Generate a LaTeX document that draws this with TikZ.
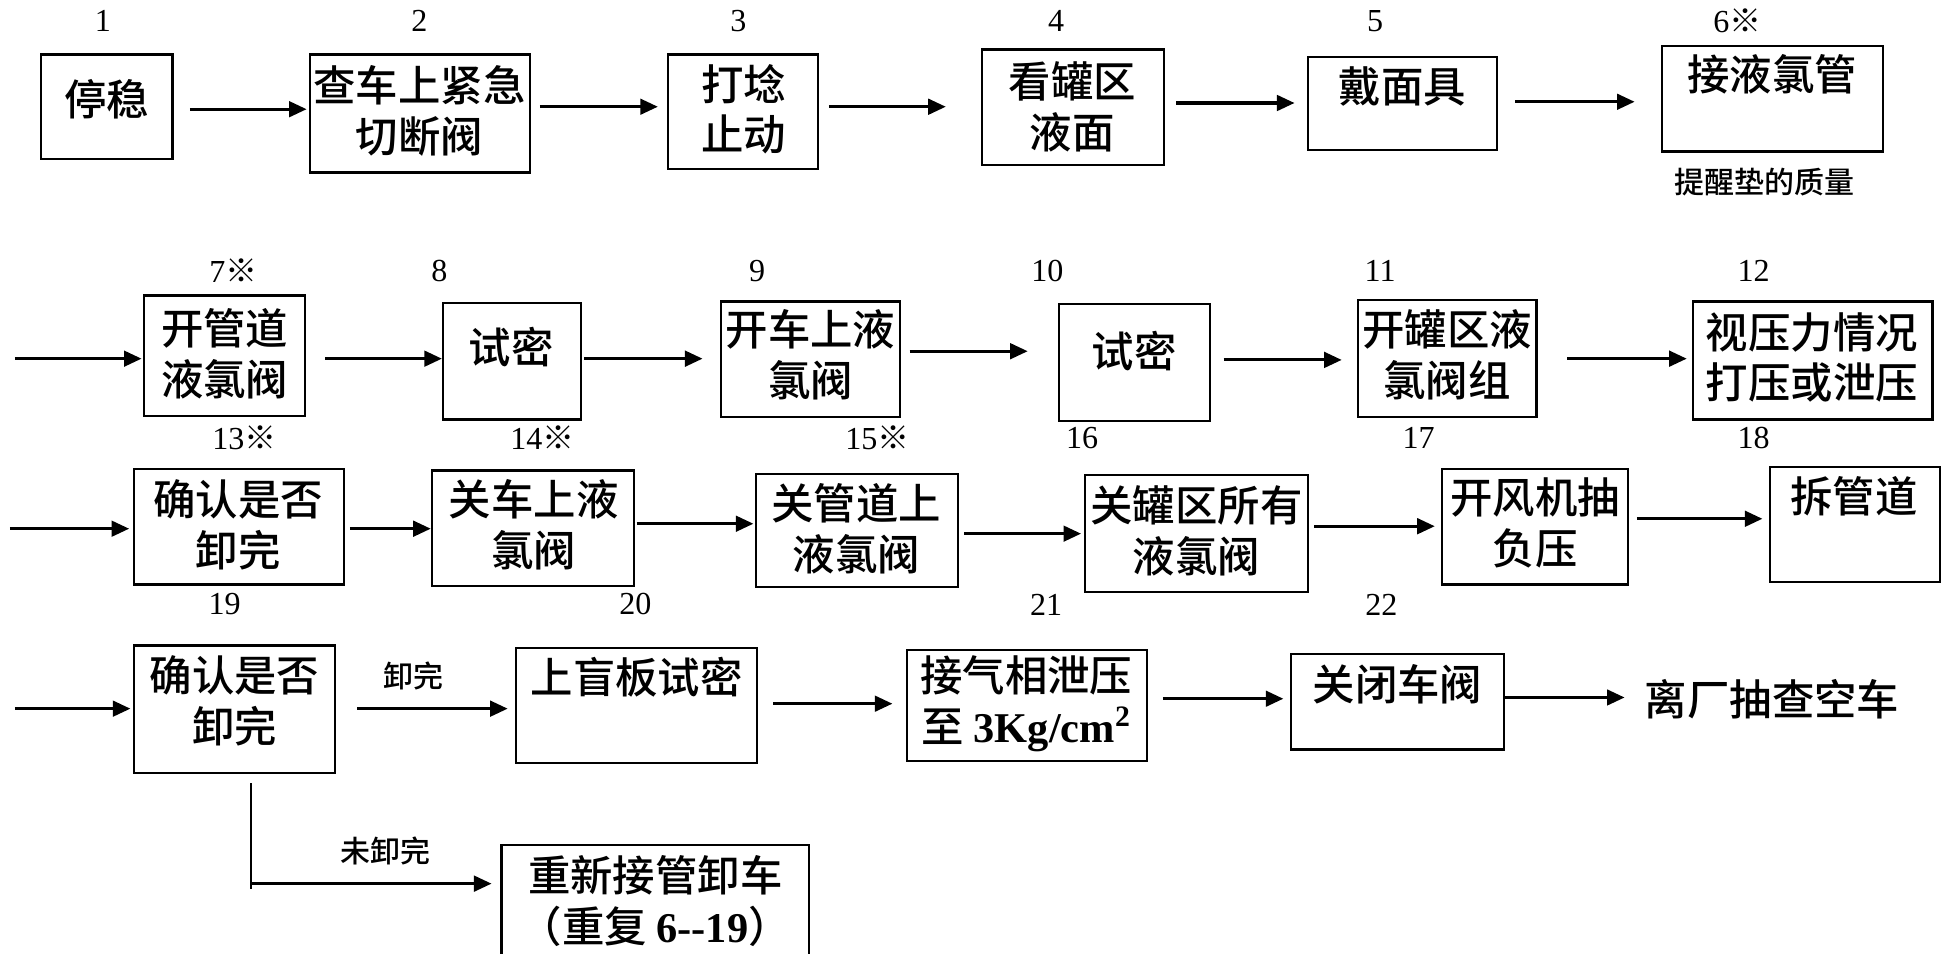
\documentclass[tikz,border=0pt]{standalone}
\usepackage{fontspec}
\setmainfont{Liberation Serif}
\newfontfamily\cjk[UprightFont=* Medium]{Noto Sans CJK SC}
\usetikzlibrary{arrows.meta,calc,fit}
\newcommand\conn[5]{\draw[arr] ($(#1.east|-0,#3)+(#4,0)$) -- ($(#2.west|-0,#3)+(-#5,0)$);}
\begin{document}
\begin{tikzpicture}[x=0.6pt,y=-0.6pt,
 box/.style={draw, line width=1.1pt, inner sep=0pt},
 txt/.style={font=\cjk\fontsize{20.5}{24.6}\selectfont, align=center, inner sep=0pt},
 num/.style={font=\fontsize{15.5}{15.5}\selectfont, inner sep=0pt},
 note/.style={font=\cjk\fontsize{14.5}{14.5}\selectfont, inner sep=0pt},
 arr/.style={line width=1.5pt, -{Triangle[length=8.5pt,width=7.5pt]}},
 thinline/.style={line width=1.1pt}
]
\clip (0,0) rectangle (1568,768);
\fill[white] (0,0) rectangle (1568,768);
% Row 1
\node[box, fit={(33,44) (139,128)}] (b1) {};
\node[txt] (t1) at (86,80) {停稳};
\node[num] (n1) at (83,17) {1};
\node[box, fit={(250,44) (427,139)}] (b2) {};
\node[txt] (t2) at (338,89) {查车上紧急\\切断阀};
\node[num] (n2) at (338,17) {2};
\node[box, fit={(538,44) (659,136)}] (b3) {};
\node[txt] (t3) at (599,88) {打埝\\止动};
\node[num] (n3) at (595,17) {3};
\node[box, fit={(791,40) (938,133)}] (b4) {};
\node[txt] (t4) at (864,86) {看罐区\\液面};
\node[num] (n4) at (851,17) {4};
\node[box, fit={(1054,46) (1206,121)}] (b5) {};
\node[txt] (t5) at (1130,70) {戴面具};
\node[num] (n5) at (1108,17) {5};
\node[box, fit={(1339,37) (1517,122)}] (b6) {};
\node[txt] (t6) at (1428,60) {接液氯管};
\node[num] (n6) at (1400,17) {6{\cjk ※}};
\node[note] (m6) at (1422,147) {提醒垫的质量};
\conn{b1}{b2}{88}{13}{2}
\conn{b2}{b3}{86}{7}{7}
\conn{b3}{b4}{86}{8}{28}
\conn{b4}{b5}{83}{9}{10}
\conn{b5}{b6}{82}{14}{21}
% Row 2
\coordinate (s7) at (12,289);
\node[box, fit={(116,238) (246,335)}] (b7) {};
\node[txt] (t7) at (181,285) {开管道\\液氯阀};
\node[num] (n7) at (188,218) {7{\cjk ※}};
\node[box, fit={(357,244) (468,338)}] (b8) {};
\node[txt] (t8) at (412,280) {试密};
\node[num] (n8) at (354,218) {8};
\node[box, fit={(581,243) (725,336)}] (b9) {};
\node[txt] (t9) at (653,286) {开车上液\\氯阀};
\node[num] (n9) at (610,218) {9};
\node[box, fit={(853,245) (975,339)}] (b10) {};
\node[txt] (t10) at (914,283) {试密};
\node[num] (n10) at (844,218) {10};
\node[box, fit={(1094,242) (1238,336)}] (b11) {};
\node[txt] (t11) at (1166,286) {开罐区液\\氯阀组};
\node[num] (n11) at (1112,218) {11};
\node[box, fit={(1364,243) (1557,338)}] (b12) {};
\node[txt] (t12) at (1460,288) {视压力情况\\打压或泄压};
\node[num] (n12) at (1413,218) {12};
\draw[arr] (s7) -- ($(b7.west|-0,289)+(-1,0)$);
\conn{b7}{b8}{289}{15}{0}
\conn{b8}{b9}{289}{2}{14}
\conn{b9}{b10}{283}{7}{24}
\conn{b10}{b11}{290}{10}{12}
\conn{b11}{b12}{289}{24}{4}
% Row 3
\coordinate (s13) at (8,426);
\node[box, fit={(108,378) (277,471)}] (b13) {};
\node[txt] (t13) at (192,423) {确认是否\\卸完};
\node[num] (n13) at (197,353) {13{\cjk ※}};
\node[box, fit={(348,379) (511,472)}] (b14) {};
\node[txt] (t14) at (430,423) {关车上液\\氯阀};
\node[num] (n14) at (437,353) {14{\cjk ※}};
\node[box, fit={(609,382) (772,473)}] (b15) {};
\node[txt] (t15) at (690,426) {关管道上\\液氯阀};
\node[num] (n15) at (707,353) {15{\cjk ※}};
\node[box, fit={(874,383) (1054,477)}] (b16) {};
\node[txt] (t16) at (964,428) {关罐区所有\\液氯阀};
\node[num] (n16) at (872,353) {16};
\node[box, fit={(1162,378) (1312,471)}] (b17) {};
\node[txt] (t17) at (1237,421) {开风机抽\\负压};
\node[num] (n17) at (1143,353) {17};
\node[box, fit={(1426,376) (1563,469)}] (b18) {};
\node[txt] (t18) at (1494,400) {拆管道};
\node[num] (n18) at (1413,353) {18};
\draw[arr] (s13) -- ($(b13.west|-0,426)+(-3,0)$);
\conn{b13}{b14}{426}{4}{0}
\conn{b14}{b15}{422}{1}{1}
\conn{b15}{b16}{430}{4}{2}
\conn{b16}{b17}{424}{4}{5}
\conn{b17}{b18}{418}{6}{5}
% Row 4
\coordinate (s19) at (12,571);
\node[box, fit={(108,520) (270,623)}] (b19) {};
\node[txt] (t19) at (189,565) {确认是否\\卸完};
\node[num] (n19) at (181,487) {19};
\node[box, fit={(416,522) (610,615)}] (b20) {};
\node[txt] (t20) at (513,546) {上盲板试密};
\node[num] (n20) at (512,487) {20};
\node[box, fit={(731,524) (924,613)}] (b21) {};
\node[txt] (t21) at (827,567) {接气相泄压\\至 {\rmfamily\bfseries 3Kg/cm\textsuperscript{2}}};
\node[num] (n21) at (843,487) {21};
\node[box, fit={(1040,527) (1212,604)}] (b22) {};
\node[txt] (t22) at (1126,551) {关闭车阀};
\node[num] (n22) at (1113,487) {22};
\node[txt, anchor=west] (end) at (1325,563) {离厂抽查空车};
\node[box, fit={(404,681) (652,775)}] (b23) {};
\node[txt] (t23) at (528,726) {重新接管卸车\\（重复 {\rmfamily\bfseries 6{-}{-}19}）};
\node[note] (m19a) at (333,545) {卸完};
\node[note] (m19b) at (311,686) {未卸完};
\draw[arr] (s19) -- ($(b19.west|-0,571)+(-2,0)$);
\conn{b19}{b20}{571}{17}{6}
\conn{b20}{b21}{567}{12}{11}
\conn{b21}{b22}{563}{12}{5}
\draw[arr] ($(b22.east|-0,562)$) -- ($(end.west|-0,562)+(-16,0)$);
\coordinate (br) at ($(b19.south)+(13,7)$);
\draw[thinline] (br) -- (br|-0,716);
\draw[arr] (br|-0,712) -- ($(b23.west|-0,712)+(-7,0)$);
\end{tikzpicture}
\end{document}
